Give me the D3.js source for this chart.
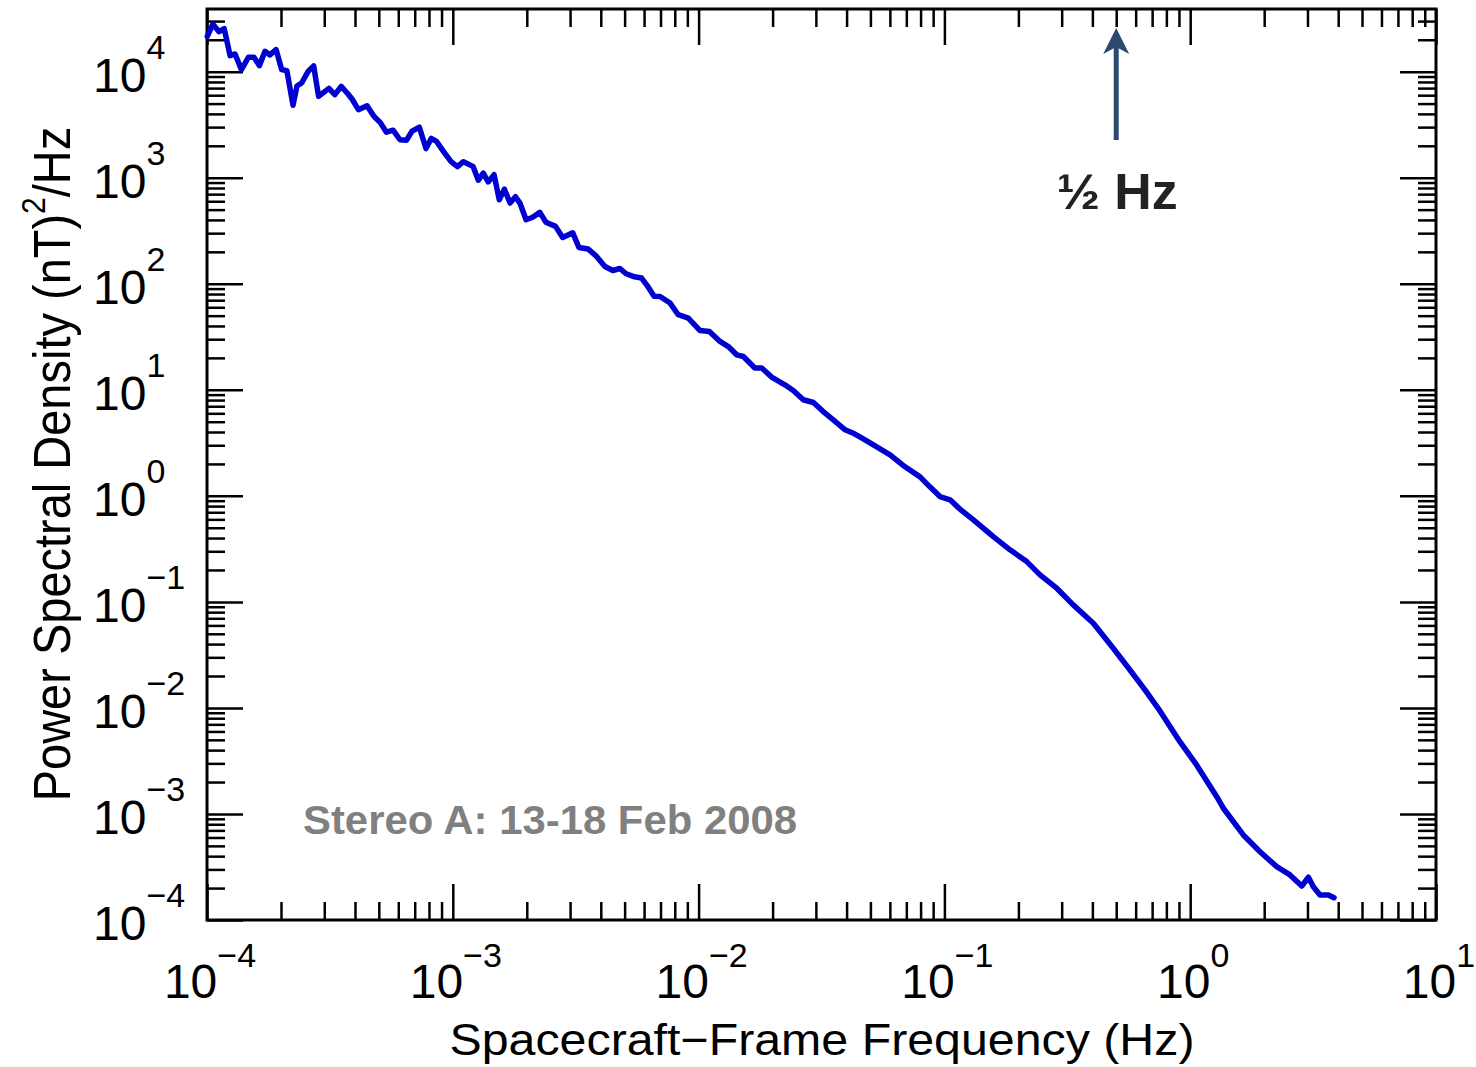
<!DOCTYPE html>
<html lang="en">
<head>
    <meta charset="utf-8">
    <script src="https://unpkg.com/d3@7/dist/d3.min.js"></script>
    <style>
        body { margin: 0; background: #fff; }
        svg text { font-family: "Liberation Sans", Arial, Helvetica, sans-serif; }
    </style>
</head>
<body>
    <div id="chart"></div>

    <script>
        // spectrum, stored as powers of ten
        const freqExp = [
            -3.999, -3.976, -3.951, -3.930, -3.906, -3.886, -3.860, -3.831, -3.809, -3.787,
            -3.764, -3.744, -3.719, -3.696, -3.675, -3.650, -3.634, -3.615, -3.588, -3.566,
            -3.546, -3.504, -3.480, -3.454, -3.428, -3.410, -3.384, -3.349, -3.321, -3.296,
            -3.270, -3.243, -3.215, -3.188, -3.166, -3.136, -3.109, -3.088, -3.066, -3.036,
            -3.007, -2.981, -2.957, -2.918, -2.896, -2.876, -2.856, -2.832, -2.811, -2.790,
            -2.767, -2.745, -2.727, -2.702, -2.675, -2.646, -2.621, -2.582, -2.553, -2.512,
            -2.487, -2.449, -2.415, -2.381, -2.349, -2.320, -2.295, -2.266, -2.232, -2.206,
            -2.181, -2.157, -2.116, -2.083, -2.042, -1.994, -1.956, -1.913, -1.879, -1.845,
            -1.818, -1.771, -1.743, -1.703, -1.649, -1.615, -1.574, -1.533, -1.493, -1.452,
            -1.404, -1.371, -1.330, -1.282, -1.221, -1.160, -1.099, -1.059, -1.018, -0.977,
            -0.937, -0.882, -0.842, -0.801, -0.733, -0.665, -0.611, -0.543, -0.476, -0.394,
            -0.313, -0.245, -0.184, -0.123, -0.042, 0.026, 0.108, 0.135, 0.216, 0.284,
            0.352, 0.406, 0.454, 0.481, 0.501, 0.528, 0.562, 0.585
        ];
        const psdExp = [
            4.333, 4.448, 4.377, 4.406, 4.151, 4.167, 4.019, 4.137, 4.137, 4.057,
            4.192, 4.158, 4.208, 4.019, 4.009, 3.684, 3.865, 3.893, 4.005, 4.054,
            3.767, 3.842, 3.783, 3.861, 3.794, 3.742, 3.642, 3.679, 3.580, 3.522,
            3.429, 3.448, 3.358, 3.354, 3.439, 3.476, 3.275, 3.370, 3.342, 3.241,
            3.151, 3.104, 3.151, 3.107, 2.976, 3.044, 2.960, 3.028, 2.792, 2.892,
            2.761, 2.821, 2.761, 2.604, 2.627, 2.673, 2.580, 2.541, 2.436, 2.481,
            2.342, 2.327, 2.258, 2.163, 2.125, 2.144, 2.094, 2.069, 2.054, 1.972,
            1.882, 1.880, 1.818, 1.708, 1.676, 1.559, 1.550, 1.456, 1.408, 1.330,
            1.314, 1.205, 1.205, 1.120, 1.047, 0.993, 0.906, 0.880, 0.795, 0.717,
            0.623, 0.591, 0.538, 0.472, 0.387, 0.274, 0.179, 0.085, -0.007, -0.038,
            -0.125, -0.226, -0.305, -0.384, -0.509, -0.620, -0.745, -0.871, -1.028, -1.201,
            -1.437, -1.642, -1.830, -2.028, -2.318, -2.538, -2.837, -2.946, -3.198, -3.356,
            -3.497, -3.575, -3.679, -3.597, -3.686, -3.764, -3.764, -3.790
        ];

        const xDomain = [1e-4, 1e1];
        const yDomain = [1e-4, 3.9e4];
        const xMajor = [1e-4, 1e-3, 1e-2, 1e-1, 1e0, 1e1];
        const yMajor = [1e-4, 1e-3, 1e-2, 1e-1, 1e0, 1e1, 1e2, 1e3, 1e4];

        const xTitle = "Spacecraft\u2212Frame Frequency (Hz)";
        const stereoLabel = "Stereo A: 13-18 Feb 2008";
        const markerFreq = 0.5;
        const markerLabel = "\u00bd Hz";

        const data = freqExp.map((e, i) => ({ f: Math.pow(10, e), p: Math.pow(10, psdExp[i]) }));

        const width = 1476, height = 1067;
        const plotL = 207, plotR = 1436, plotT = 9, plotB = 920;

        const x = d3.scaleLog().domain(xDomain).range([plotL, plotR]);
        const y = d3.scaleLog().domain(yDomain).range([plotB, plotT]);

        const svg = d3.select("#chart").append("svg")
            .attr("width", width)
            .attr("height", height);

        const isMajor = v => Math.abs(Math.log10(v) - Math.round(Math.log10(v))) < 1e-9;
        const xMinor = x.ticks().filter(v => !isMajor(v));
        const yMinor = y.ticks().filter(v => !isMajor(v));

        function styleAxis(g) {
            g.select(".domain").remove();
            g.selectAll(".tick line").attr("stroke", "#000").attr("stroke-width", 2.5);
        }

        // ticks on all four sides, pointing inwards
        const axes = [
            [() => d3.axisBottom(x), plotB, true, xMinor, xMajor],
            [() => d3.axisTop(x), plotT, true, xMinor, xMajor],
            [() => d3.axisLeft(y), plotL, false, yMinor, yMajor],
            [() => d3.axisRight(y), plotR, false, yMinor, yMajor]
        ];
        axes.forEach(([makeAxis, pos, horiz, minor, major]) => {
            [[minor, 18], [major, 36]].forEach(([vals, len]) => {
                const a = makeAxis().tickValues(vals).tickSize(-len).tickFormat("");
                svg.append("g")
                    .attr("transform", horiz ? `translate(0,${pos})` : `translate(${pos},0)`)
                    .call(a)
                    .call(styleAxis);
            });
        });

        svg.append("rect")
            .attr("x", plotL).attr("y", plotT)
            .attr("width", plotR - plotL).attr("height", plotB - plotT)
            .attr("fill", "none").attr("stroke", "#000").attr("stroke-width", 3);

        const expo = v => {
            const e = Math.round(Math.log10(v));
            return e < 0 ? "\u2212" + (-e) : String(e);
        };

        // x tick labels
        const xl = svg.append("g").selectAll("text").data(xMajor).join("text")
            .attr("x", d => x(d) + 3)
            .attr("y", 998)
            .attr("text-anchor", "middle")
            .attr("fill", "#000");
        xl.append("tspan").attr("font-size", 48).text("10");
        xl.append("tspan").attr("font-size", 34).attr("dy", -31).text(d => expo(d));

        // y tick labels, left aligned
        const yl = svg.append("g").selectAll("text").data(yMajor).join("text")
            .attr("x", 93)
            .attr("y", d => y(d) + 20)
            .attr("text-anchor", "start")
            .attr("fill", "#000");
        yl.append("tspan").attr("font-size", 48).text("10");
        yl.append("tspan").attr("font-size", 34).attr("dy", -33).text(d => expo(d));

        // axis titles
        svg.append("text")
            .attr("x", 822).attr("y", 1055)
            .attr("text-anchor", "middle")
            .attr("font-size", 44)
            .attr("textLength", 745).attr("lengthAdjust", "spacingAndGlyphs")
            .text(xTitle);

        const yt = svg.append("text")
            .attr("transform", "translate(70,464) rotate(-90) scale(1,1.12)")
            .attr("text-anchor", "middle")
            .attr("font-size", 47);
        yt.append("tspan").text("Power Spectral Density (nT)");
        yt.append("tspan").attr("font-size", 30).attr("dy", -22).text("2");
        yt.append("tspan").attr("dy", 22).text("/Hz");

        // spectrum
        svg.append("path")
            .datum(data)
            .attr("fill", "none")
            .attr("stroke", "#0000d0")
            .attr("stroke-width", 5.5)
            .attr("stroke-linejoin", "round")
            .attr("stroke-linecap", "round")
            .attr("d", d3.line().x(d => x(d.f)).y(d => y(d.p)));

        // annotations
        svg.append("text")
            .attr("x", 303).attr("y", 834)
            .attr("font-family", "'Open Sans', 'Noto Sans', sans-serif")
            .attr("font-weight", "bold")
            .attr("font-size", 41)
            .attr("fill", "#808080")
            .attr("textLength", 494).attr("lengthAdjust", "spacingAndGlyphs")
            .text(stereoLabel);

        const mx = x(markerFreq);
        svg.append("line")
            .attr("x1", mx).attr("x2", mx)
            .attr("y1", 140).attr("y2", 46)
            .attr("stroke", "#2b4a6e").attr("stroke-width", 5);
        svg.append("path")
            .attr("d", `M${mx},28 L${mx + 13},54 L${mx},47 L${mx - 13},54 Z`)
            .attr("fill", "#2b4a6e");

        svg.append("text")
            .attr("x", mx + 1).attr("y", 209)
            .attr("text-anchor", "middle")
            .attr("font-family", "'Open Sans', 'Noto Sans', sans-serif")
            .attr("font-weight", "bold")
            .attr("font-size", 50)
            .attr("fill", "#222")
            .attr("textLength", 121).attr("lengthAdjust", "spacingAndGlyphs")
            .text(markerLabel);
    </script>
</body>
</html>
